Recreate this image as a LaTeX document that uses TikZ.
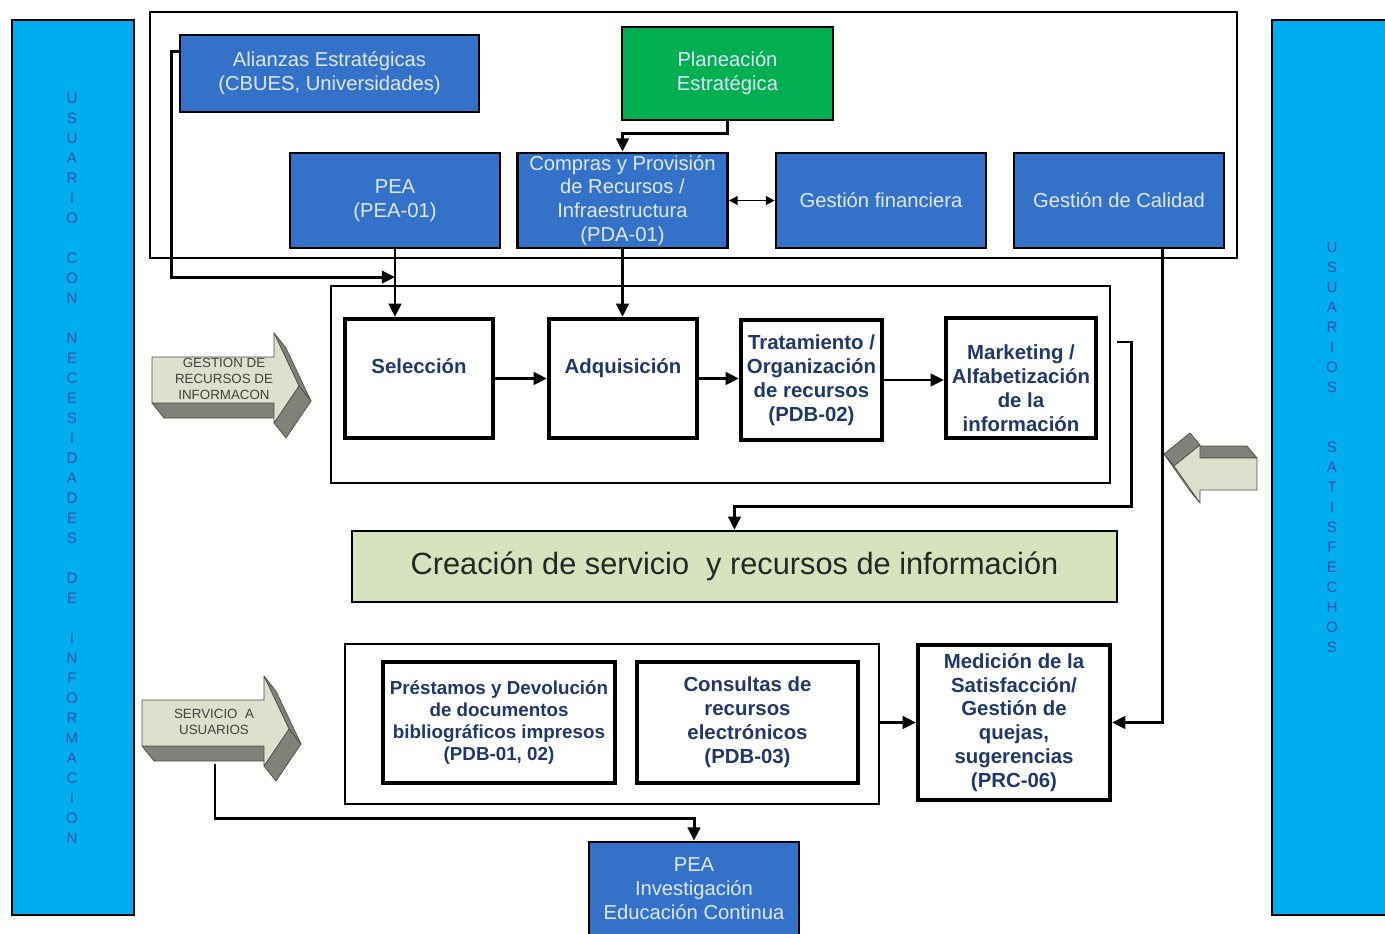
\documentclass[tikz,border=0pt]{standalone}
\usepackage{fontspec}
\setmainfont{Liberation Sans}
\usetikzlibrary{arrows.meta, positioning, calc}

\definecolor{sidecyan}{RGB}{0,174,239}
\definecolor{boxblue}{RGB}{52,113,201}
\definecolor{planegreen}{RGB}{0,176,80}
\definecolor{olivefill}{RGB}{215,227,188}
\definecolor{navytext}{RGB}{31,56,105}
\definecolor{boxtext}{RGB}{225,232,252}
\definecolor{letterblue}{RGB}{38,80,165}
\definecolor{arrowface}{RGB}{221,224,204}
\definecolor{arrowside}{RGB}{128,129,120}

\tikzset{
  bluebox/.style={draw=black, line width=1.6pt, fill=boxblue, text=boxtext, align=center,
    inner sep=1pt, font=\fontsize{11.5}{13.6}\selectfont},
  procbox/.style={draw=black, line width=2.4pt, fill=white, text=navytext, align=center,
    inner sep=1pt, font=\bfseries\fontsize{11.6}{13.6}\selectfont},
  groupframe/.style={draw=black, line width=1.1pt},
  sidebar/.style={draw=black, line width=1.4pt, fill=sidecyan},
  vtext/.style={text=letterblue, align=center, font=\fontsize{8.6}{11.38}\selectfont},
  arrowlbl/.style={text=black!75, align=center, font=\fontsize{7.6}{9.1}\selectfont},
  conn/.style={line width=1.7pt, -{Triangle[length=7.5pt,width=7pt]}},
  biconn/.style={line width=0.9pt, {Triangle[length=5pt,width=5pt]}-{Triangle[length=5pt,width=5pt]}},
  arrowdark/.style={fill=arrowside, draw=black!70, line width=0.4pt, line join=round},
  arrowlite/.style={fill=arrowface, draw=black!70, line width=0.4pt, line join=round},
}

% 3D block arrow pointing right, #1 = top left corner of its front face
\newcommand{\blockarrow}[1]{%
  \begin{scope}[shift={#1}]
    \filldraw[arrowdark] (0,46) -- (122,46) -- (134,61) -- (12,61) -- cycle;
    \filldraw[arrowdark] (122,-24) -- (147,29) -- (159,44) -- (134,-9) -- cycle;
    \filldraw[arrowdark] (147,29) -- (122,66) -- (134,81) -- (159,44) -- cycle;
    \filldraw[arrowlite] (0,0) -- (122,0) -- (122,-24) -- (147,29) -- (122,66) -- (122,46) -- (0,46) -- cycle;
  \end{scope}}

\begin{document}
\begin{tikzpicture}[x=0.02cm, y=-0.02cm]
  \useasboundingbox (0,0) rectangle (1385,933);
  \clip (0,0) rectangle (1385,933);

  % side bars
  \node[sidebar, minimum width=2.44cm, minimum height=17.9cm] (usrbar) at (73,467.5) {};
  \node[sidebar, minimum width=2.4cm, minimum height=17.9cm] (satbar) at (1332,467.5) {};
  \node[vtext] (usrlbl) at (72,468) {U\\S\\U\\A\\R\\I\\O\\~\\C\\O\\N\\~\\N\\E\\C\\E\\S\\I\\D\\A\\D\\E\\S\\~\\D\\E\\~\\I\\N\\F\\O\\R\\M\\A\\C\\I\\O\\N};
  \node[vtext] (satlbl) at (1332,447) {U\\S\\U\\A\\R\\I\\O\\S\\~\\~\\S\\A\\T\\I\\S\\F\\E\\C\\H\\O\\S};

  % top group
  \node[groupframe, minimum width=21.74cm, minimum height=4.92cm] (topframe) at (693.5,135) {};
  \node[bluebox, minimum width=5.98cm, minimum height=1.54cm] (alianzas) at (329.5,73.5) {Alianzas Estratégicas\\(CBUES, Universidades)};
  \node[bluebox, fill=planegreen, minimum width=4.22cm, minimum height=1.86cm] (plan) at (727.5,73.5) {Planeación\\Estratégica};
  \node[bluebox, minimum width=4.2cm, minimum height=1.9cm] (pea) at (395,200.5) {PEA\\(PEA-01)};
  \node[bluebox, minimum width=4.2cm, minimum height=1.9cm] (compras) at (622.5,200.5) {Compras y Provisión\\de Recursos /\\Infraestructura\\(PDA-01)};
  \node[bluebox, minimum width=4.2cm, minimum height=1.9cm] (finanzas) at (881,200.5) {Gestión financiera};
  \node[bluebox, minimum width=4.2cm, minimum height=1.9cm] (calidad) at (1119,200.5) {Gestión de Calidad};

  % process group
  \node[groupframe, minimum width=15.58cm, minimum height=3.94cm] (procframe) at (720.5,384.5) {};
  \node[procbox, minimum width=2.96cm, minimum height=2.38cm, text depth=14pt] (selec) at (419,378.5) {Selección};
  \node[procbox, minimum width=2.96cm, minimum height=2.38cm, text depth=14pt] (adq) at (623,378.5) {Adquisición};
  \node[procbox, minimum width=2.82cm, minimum height=2.4cm] (trat) at (811.5,380) {Tratamiento /\\Organización\\de recursos\\(PDB-02)};
  \node[procbox, minimum width=3.0cm, minimum height=2.4cm, text height=60.5pt] (mark) at (1021,378) {Marketing /\\Alfabetización\\de la\\información};

  % creation bar
  \node[draw=black, line width=1.4pt, fill=olivefill, text=black!85, minimum width=15.3cm, minimum height=1.42cm,
    font=\fontsize{17.5}{20}\selectfont] (creacion) at (734.5,566.5) {Creación de servicio\ \ y recursos de información};

  % service group
  \node[groupframe, minimum width=10.68cm, minimum height=3.2cm] (servframe) at (612,724) {};
  \node[procbox, minimum width=4.64cm, minimum height=2.42cm, font=\bfseries\fontsize{10.7}{12.5}\selectfont] (prestamos) at (499,722.5) {Préstamos y Devolución\\de documentos\\bibliográficos impresos\\(PDB-01, 02)};
  \node[procbox, minimum width=4.42cm, minimum height=2.42cm] (consultas) at (747.5,722.5) {Consultas de\\recursos\\electrónicos\\(PDB-03)};
  \node[procbox, minimum width=3.84cm, minimum height=3.1cm] (medicion) at (1014,722.5) {Medición de la\\Satisfacción/\\Gestión de\\quejas,\\sugerencias\\(PRC-06)};
  \node[bluebox, minimum width=4.2cm, minimum height=1.88cm] (peainv) at (694,889) {PEA\\Investigación\\Educación Continua};

  % block arrows
  \blockarrow{(152,357)}
  \blockarrow{(142,700)}
  \filldraw[arrowdark] (1200,458) -- (1257,458) -- (1247,446) -- (1190,446) -- cycle;
  \filldraw[arrowdark] (1200,445) -- (1174,466) -- (1164,454) -- (1190,433) -- cycle;
  \filldraw[arrowlite] (1174,466) -- (1200,503) -- (1190,491) -- (1164,454) -- cycle;
  \filldraw[arrowlite] (1257,458) -- (1257,490) -- (1200,490) -- (1200,503) -- (1174,466) -- (1200,445) -- (1200,458) -- cycle;
  \node[arrowlbl] (gestlbl) at (224,379) {GESTION DE\\RECURSOS DE\\INFORMACON};
  \node[arrowlbl] (servlbl) at (214,722) {SERVICIO\ \ A\\USUARIOS};

  % connectors
  \draw[conn] (plan.south) -- ++(0,12) -| (compras.north);
  \draw[biconn] (compras.east) -- (finanzas.west);
  \coordinate (selin) at ($(pea.south)!0.41!(pea.south |- selec.north)$);
  \draw[conn] ($(alianzas.north west)+(0,18)$) -- ++(-7,0) |- (selin);
  \draw[conn] (pea.south) -- (pea.south |- selec.north);
  \draw[conn] (compras.south) -- (compras.south |- adq.north);
  \draw[conn] (selec.east) -- (selec.east -| adq.west);
  \draw[conn] (adq.east) -- (adq.east -| trat.west);
  \draw[conn] (trat.east) -- (trat.east -| mark.west);
  \coordinate (markout) at (1117,342);
  \draw[conn] (markout) -- ++(14,0) |- ($(creacion.north)+(0,-23)$) -- (creacion.north);
  \draw[conn] ($(calidad.south)+(43,0)$) |- (medicion.east);
  \draw[conn] (medicion.west -| servframe.east) -- (medicion.west);
  \coordinate (servout) at (215,764);
  \draw[conn] (servout) |- ($(peainv.north)+(0,-22)$) -- (peainv.north);
\end{tikzpicture}
\end{document}
